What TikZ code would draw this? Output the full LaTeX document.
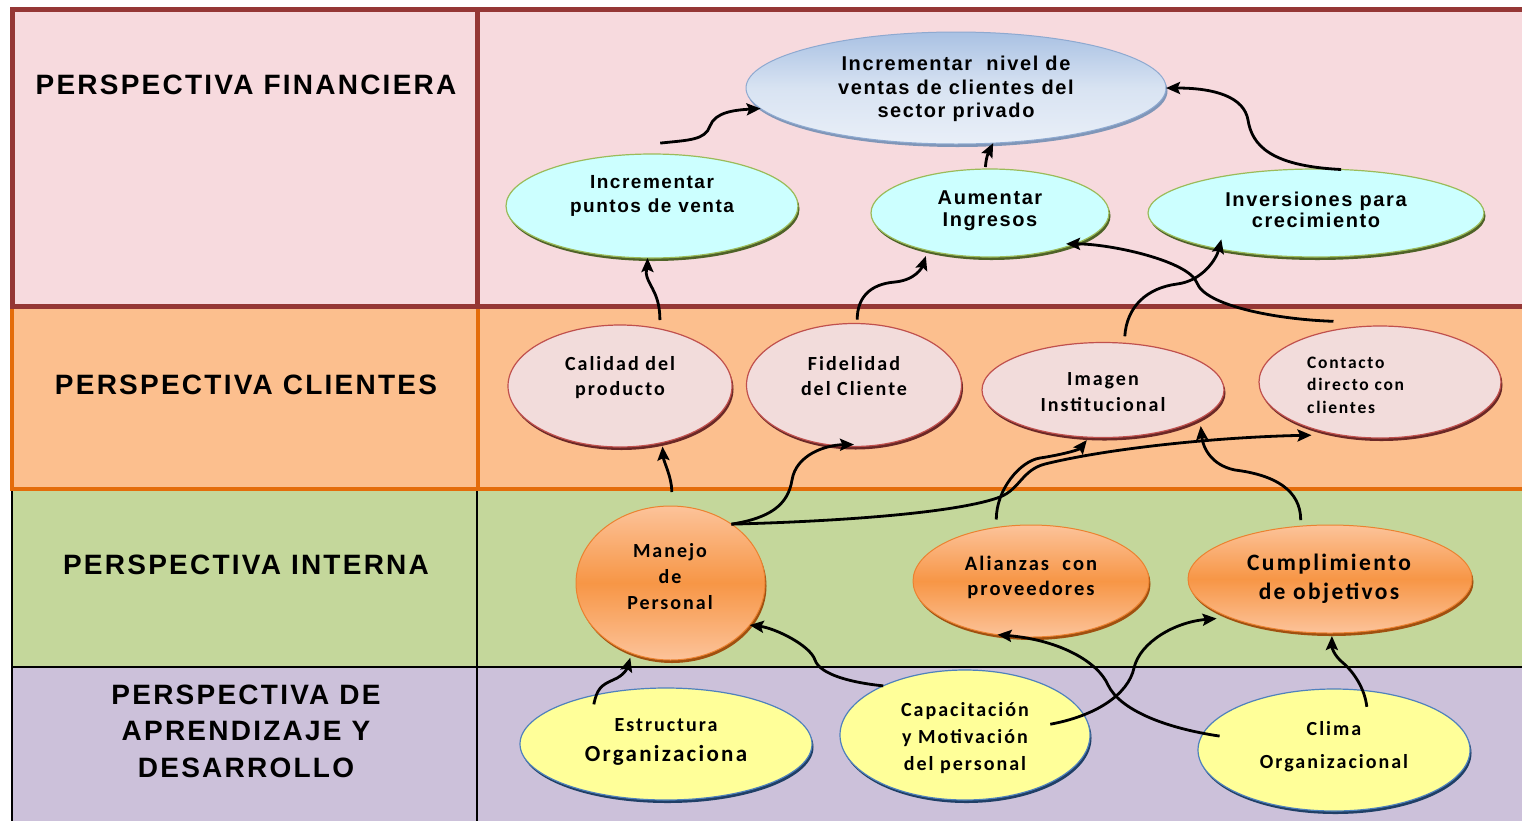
\documentclass[tikz,border=0pt]{standalone}
\usepackage{fontspec}
\usetikzlibrary{shapes.geometric,arrows.meta,shadows}
\newfontfamily\headfont[LetterSpace=8]{Liberation Sans}
\newfontfamily\arialfont[LetterSpace=8]{Liberation Sans}
\newfontfamily\califont[LetterSpace=10]{Carlito}
\newcommand\setfs[2]{\fontsize{#1}{#2}\selectfont}

% band colours
\definecolor{finfill}{HTML}{F7DADE}
\definecolor{finline}{HTML}{953735}
\definecolor{clifill}{HTML}{FCBF8E}
\definecolor{cliline}{HTML}{E46C0A}
\definecolor{intfill}{HTML}{C4D79B}
\definecolor{aprfill}{HTML}{CCC1DA}
% ellipse colours
\definecolor{blT}{HTML}{A9C1E3}
\definecolor{blM}{HTML}{D8E3F2}
\definecolor{blB}{HTML}{E9EFF8}
\definecolor{blLine}{HTML}{8EA9D0}
\definecolor{blShadow}{HTML}{8096B8}
\definecolor{cyfill}{HTML}{CCFFFF}
\definecolor{cyline}{HTML}{9BBB59}
\definecolor{cyshadow}{HTML}{4F6228}
\definecolor{pkfill}{HTML}{F2DCDB}
\definecolor{pkline}{HTML}{C0504D}
\definecolor{pkshadow}{HTML}{6B2826}
\definecolor{orL}{HTML}{FCC39A}
\definecolor{orM}{HTML}{F79646}
\definecolor{orLine}{HTML}{EB8230}
\definecolor{orShadow}{HTML}{A0500F}
\definecolor{yefill}{HTML}{FFFF99}
\definecolor{yeline}{HTML}{4F81BD}
\definecolor{yeshadow}{HTML}{1F3F66}

\begin{document}
\begin{tikzpicture}[x=1pt,y=-1pt,
  rim/.style={drop shadow={shadow xshift=1.5pt,shadow yshift=-3pt,fill=#1,opacity=1}},
  obj/.style={ellipse,inner sep=0pt,outer sep=0pt},
  topobj/.style={obj,top color=blT,bottom color=blB,middle color=blM,draw=blLine,line width=1pt,rim=blShadow},
  finobj/.style={obj,fill=cyfill,draw=cyline,line width=1.2pt,rim=cyshadow},
  cliobj/.style={obj,fill=pkfill,draw=pkline,line width=1.2pt,rim=pkshadow},
  intobj/.style={obj,top color=orL,bottom color=orL,middle color=orM,draw=orLine,line width=1pt,rim=orShadow},
  aprobj/.style={obj,fill=yefill,draw=yeline,line width=1.2pt,rim=yeshadow},
  lab/.style={inner sep=0pt,align=center,text=black},
  head/.style={lab,font=\headfont\bfseries\setfs{28}{36.5}},
  arr/.style={draw=black,line width=2.8pt,-{Stealth[length=14pt,width=12pt,inset=2.5pt]}}
]
\useasboundingbox (0,0) rectangle (1522,820);
\fill[white] (0,0) rectangle (1522,820);

% perspective bands, lower ones first so the upper borders stay on top
\draw[fill=aprfill,draw=black,line width=1.3pt] (12,667) rectangle (1545,840);
\draw[black,line width=1.3pt] (477,667) -- (477,840);
\draw[fill=intfill,draw=black,line width=1.3pt] (12,489) rectangle (1545,667);
\draw[black,line width=1.3pt] (477,489) -- (477,667);
\draw[fill=clifill,draw=cliline,line width=4.5pt] (12,307) rectangle (1545,489);
\draw[cliline,line width=4.5pt] (478,307) -- (478,489);
\draw[fill=finfill,draw=finline,line width=5pt] (12,9.5) rectangle (1545,306.5);
\draw[finline,line width=5pt] (477.5,9.5) -- (477.5,306.5);

% band titles
\node[head] (hF) at (246,85) {PERSPECTIVA FINANCIERA};
\node[head] (hC) at (246,385) {PERSPECTIVA CLIENTES};
\node[head] (hI) at (246,565) {PERSPECTIVA INTERNA};
\node[head] (hA) at (246,731) {PERSPECTIVA DE\\APRENDIZAJE Y\\DESARROLLO};

% financial objectives
\node[topobj,minimum width=420pt,minimum height=112pt] (top) at (956,88) {};
\node[lab,font=\arialfont\bfseries\setfs{20}{23.5}] (topT) at (956,89)
  {Incrementar\ \ nivel de\\ventas de clientes del\\sector privado};
\node[finobj,minimum width=292pt,minimum height=104pt] (p1) at (652,206) {};
\node[lab,font=\arialfont\bfseries\setfs{19}{24}] (p1T) at (652,196) {Incrementar\\puntos de venta};
\node[finobj,minimum width=238pt,minimum height=88pt] (p2) at (990,213) {};
\node[lab,font=\arialfont\bfseries\setfs{20}{22}] (p2T) at (990,211) {Aumentar\\Ingresos};
\node[finobj,minimum width=336pt,minimum height=88pt] (p3) at (1316,213) {};
\node[lab,font=\arialfont\bfseries\setfs{20}{21}] (p3T) at (1316,210) {Inversiones para\\crecimiento};

% customer objectives
\node[cliobj,minimum width=224pt,minimum height=122pt] (c1) at (620,386) {};
\node[lab,font=\califont\bfseries\setfs{20}{25}] (c1T) at (620,378) {Calidad del\\producto};
\node[cliobj,minimum width=215pt,minimum height=123pt] (c2) at (854,385) {};
\node[lab,font=\califont\bfseries\setfs{20}{25}] (c2T) at (854,376) {Fidelidad\\del Cliente};
\node[cliobj,minimum width=242pt,minimum height=95pt] (c3) at (1103,390) {};
\node[lab,font=\califont\bfseries\setfs{20}{26}] (c3T) at (1103,392) {Imagen\\Institucional};
\node[cliobj,minimum width=242pt,minimum height=112pt] (c4) at (1380,382) {};
\node[lab,align=left,anchor=west,font=\califont\bfseries\setfs{17.5}{22.5}] (c4T) at (1307,385)
  {Contacto\\directo con\\clientes};

% internal objectives
\node[intobj,minimum width=189pt,minimum height=154pt] (i1) at (670.5,583) {};
\node[lab,font=\califont\bfseries\setfs{20}{26}] (i1T) at (670,577) {Manejo\\de\\Personal};
\node[intobj,minimum width=236pt,minimum height=112pt] (i2) at (1031,581) {};
\node[lab,font=\califont\bfseries\setfs{20.5}{25}] (i2T) at (1031,577) {Alianzas\ \ con\\proveedores};
\node[intobj,minimum width=284pt,minimum height=108pt] (i3) at (1330,579) {};
\node[lab,font=\califont\bfseries\setfs{23.5}{29}] (i3T) at (1329,579) {Cumplimiento\\de objetivos};

% learning and growth objectives
\node[aprobj,minimum width=292pt,minimum height=112pt] (l1) at (666,744) {};
\node[lab,font=\califont\bfseries\setfs{20}{30}] (l1T) at (666,742)
  {Estructura\\{\setfs{23}{30}Organizaciona}};
\node[aprobj,minimum width=250pt,minimum height=130pt] (l2) at (965,735) {};
\node[lab,font=\califont\bfseries\setfs{20}{27}] (l2T) at (965,738)
  {Capacitación\\y Motivación\\del personal};
\node[aprobj,minimum width=272pt,minimum height=122pt] (l3) at (1334,750) {};
\node[lab,font=\califont\bfseries\setfs{20}{33}] (l3T) at (1334,747) {Clima\\Organizacional};

% cause-effect links
\draw[arr] ([yshift=11pt]p1.81) .. controls (690,140) and (705,140) .. (710,126)
  .. controls (715,112) and (735,110) .. (top.186);
\draw[arr] ([yshift=2pt]p2.96) .. controls +(1,-12) and +(-4,8) .. (top.-56);
\draw[arr] (p3.60) .. controls (1270,166) and (1252,145) .. (1248,120)
  .. controls (1244,97) and (1215,88) .. (top.0);

\draw[arr] ([yshift=9pt]c1.55) .. controls +(0,-25) and +(3,10) .. (647,277)
  .. controls +(-2,-6) and +(0,10) .. (p1.-95);
\draw[arr] ([yshift=4pt]c2.87) .. controls +(0,-22) and +(-25,2) .. (895,282)
  .. controls +(20,-2) and +(-4,12) .. ([yshift=-6pt]p2.-150);
\draw[arr] ([yshift=7pt]c3.65) .. controls +(2,-30) and +(-30,4) .. (1177,284)
  .. controls +(25,-3) and +(-5,20) .. ([yshift=10pt]p3.-159);
\draw[arr] ([yshift=9pt]c4.132) .. controls +(-60,-2) and +(8,22) .. (1197,283)
  .. controls +(-8,-22) and +(45,0) .. ([yshift=3pt]p2.-24);

\draw[arr] ([yshift=14pt]i1.89) .. controls +(0,-15) and +(1,15) .. ([yshift=-4pt]c1.-53);
\draw[arr] (i1.44) .. controls (770,518) and (788,505) .. (792,480)
  .. controls (796,455) and (825,445) .. ([yshift=2pt]c2.south);
\draw[arr] (i1.44) .. controls (850,521) and (960,512) .. (1000,497)
  .. controls (1020,489) and (1022,470) .. (1045,464)
  .. controls (1110,448) and (1220,437) .. ([yshift=-7pt]c4.-146);
\draw[arr] ([yshift=8pt]i2.123) .. controls +(0,-30) and +(-20,3) .. (1040,458)
  .. controls +(20,-3) and +(-8,10) .. ([yshift=-3pt]c3.-109);
\draw[arr] ([yshift=6pt]i3.119) .. controls +(0,-30) and +(40,5) .. (1235,470)
  .. controls +(-25,-5) and +(2,20) .. ([yshift=-8pt]c3.-16);

\draw[arr] ([yshift=-9pt]l1.146) .. controls +(3,-15) and +(-12,5) .. (613,680)
  .. controls +(12,-5) and +(-3,10) .. ([yshift=-5pt]i1.-120);
\draw[arr] (l2.149) .. controls +(-30,-3) and +(5,15) .. (815,660)
  .. controls +(-5,-15) and +(25,3) .. (i1.-28);
\draw[arr] ([xshift=18pt]l3.174) .. controls (1165,728) and (1120,710) .. (1108,685)
  .. controls (1098,662) and (1060,640) .. (i2.-122);
\draw[arr] ([xshift=-38pt]l2.5) .. controls (1095,716) and (1128,695) .. (1134,668)
  .. controls (1140,642) and (1175,622) .. ([yshift=-7pt]i3.-164);
\draw[arr] ([yshift=-16pt]l3.61) .. controls +(-2,-18) and +(12,10) .. (1342,662)
  .. controls +(-8,-7) and +(0,12) .. ([yshift=-3pt]i3.-88);
\end{tikzpicture}
\end{document}
